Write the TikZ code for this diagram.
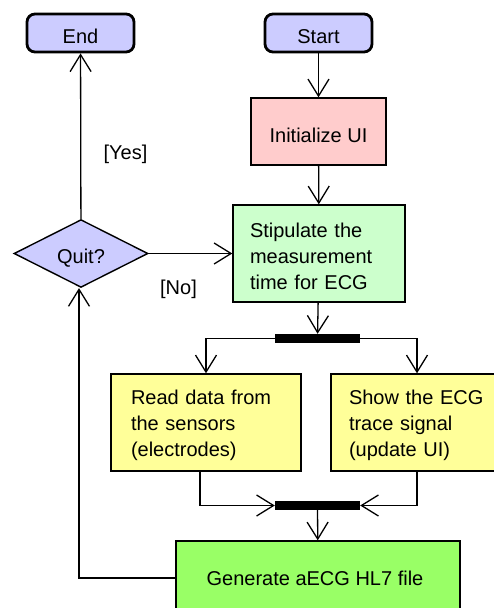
\documentclass[tikz,border=0pt]{standalone}
\usepackage{fontspec}
\setmainfont{Liberation Sans}
\usetikzlibrary{shapes.geometric,arrows.meta}
\definecolor{lav}{HTML}{CCCCFF}
\definecolor{pinkc}{HTML}{FFCCCC}
\definecolor{mint}{HTML}{CCFFCC}
\definecolor{yel}{HTML}{FFFF99}
\definecolor{grn}{HTML}{99FF66}
\newcommand{\firstln}{\rule{0pt}{19.5pt}}
\begin{document}
\begin{tikzpicture}[x=1pt,y=-1pt,
  every node/.style={font=\fontsize{20}{26}\selectfont},
  low/.style={text height=20pt,text depth=0pt},
  term/.style={draw,line width=2.8pt,rounded corners=8pt,fill=lav,minimum width=107pt,minimum height=38pt,inner sep=0pt,low},
  act/.style={draw,line width=1.4pt,inner sep=0pt},
  bar/.style={fill=black,minimum width=85pt,minimum height=9pt,inner sep=0pt},
  arr/.style={line width=1.3pt,-{Straight Barb[length=17pt,width=21pt,line width=1.3pt]}},
  lbl/.style={inner sep=0pt}
]
\useasboundingbox (0,0) rectangle (494,608);
\node[term] (end) at (80.5,33) {End};
\node[term] (start) at (318.5,33) {Start};
\node[act,low,text height=21pt,fill=pinkc,minimum width=135pt,minimum height=67pt] (init) at (318.5,131.5) {Initialize UI};
\node[act,fill=mint,minimum width=172pt,minimum height=97pt,align=left,text width=138pt,inner xsep=17pt] (stip) at (319,253.5) {\firstln Stipulate the\\measurement\\time for ECG};
\node[draw,diamond,line width=1.4pt,fill=lav,minimum width=134pt,minimum height=63pt,inner sep=0pt,low] (quit) at (81,253.5) {Quit?};
\node[bar] (fork) at (317.5,338.5) {};
\node[act,fill=yel,minimum width=190pt,minimum height=97pt,align=left,text width=150pt,inner xsep=20pt] (read) at (206,422.5) {\firstln Read data from\\the sensors\\(electrodes)};
\node[act,fill=yel,minimum width=172pt,minimum height=97pt,align=left,text width=136pt,inner xsep=18pt] (show) at (417,422.5) {\firstln Show the ECG\\trace signal\\(update UI)};
\node[bar] (join) at (317.5,505.5) {};
\node[act,fill=grn,minimum width=284pt,minimum height=74pt] (gen) at (318,578) {};
\node[lbl] (gentxt) at (315,578) {Generate aECG HL7 file};
\node[lbl] (yes) at (125.5,154) {[Yes]};
\node[lbl] (no) at (178.5,289) {[No]};
\draw[arr] (start) -- (init);
\draw[arr] (init) -- (stip);
\draw[arr] (quit) -- (stip);
\draw[arr] (quit) -- (end);
\draw[arr] (stip) -- (fork);
\draw[arr] (fork.west) -| (read.north);
\draw[arr] (fork.east) -| (show.north);
\draw[arr] ([xshift=-6pt]read.south) |- (join.west);
\draw[arr] (show.south) |- (join.east);
\draw[arr] (join) -- (gen);
\draw[arr] (gen.west) -| ([xshift=-2pt]quit.south);
\end{tikzpicture}
\end{document}
